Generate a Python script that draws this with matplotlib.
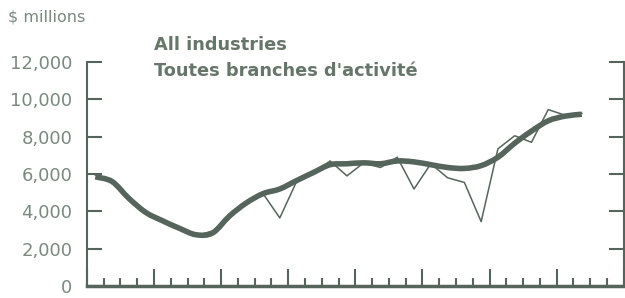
import numpy as np
import matplotlib
matplotlib.use("Agg")
import matplotlib.pyplot as plt
from matplotlib.path import Path
from matplotlib.patches import PathPatch
from matplotlib.ticker import MultipleLocator, FuncFormatter

# quarterly values, $ millions
trend = [5850, 5600, 4700, 3950, 3500, 3100, 2750, 2850, 3750, 4450,
         4950, 5200, 5650, 6080, 6500, 6550, 6600, 6550, 6700, 6650,
         6500, 6350, 6300, 6450, 6900, 7650, 8300, 8850, 9100, 9200]
actual = [5950, 5700, 4750, 3850, 3600, 3050, 2700, 2950, 3750, 4450,
          4950, 3650, 5600, 6080, 6700, 5900, 6600, 6350, 6900, 5200,
          6550, 5800, 5550, 3450, 7350, 8050, 7700, 9450, 9150, 9250]
y_ticks = [0, 2000, 4000, 6000, 8000, 10000, 12000]
n_quarters = 32

LINE = "#56655b"
TEXT = "#7a897e"
TITLE = "#66766a"

plt.rcParams['font.family'] = ['DejaVu Sans']


def smooth_path(x, y):
    # Catmull-Rom style curve through the points, drawn as cubic Beziers
    pts = np.column_stack([x, y]).astype(float)
    ext = np.vstack([pts[0], pts, pts[-1]])
    verts = [pts[0]]
    codes = [Path.MOVETO]
    for i in range(len(pts) - 1):
        p0, p1, p2, p3 = ext[i], ext[i + 1], ext[i + 2], ext[i + 3]
        verts += [p1 + (p2 - p0) / 6, p2 - (p3 - p1) / 6, p2]
        codes += [Path.CURVE4] * 3
    return Path(verts, codes)


fig = plt.figure(figsize=(6.25, 2.98), dpi=100)
ax = fig.add_axes([0.139, 0.040, 0.859, 0.752])

q = np.arange(len(trend)) + 0.5
ax.plot(q, actual, color=LINE, lw=1.1)
ax.add_patch(PathPatch(smooth_path(q, trend), facecolor='none',
                       edgecolor=LINE, lw=4.0, capstyle='butt'))

ax.set_xlim(0, n_quarters)
ax.set_ylim(0, 12000)

ax.spines['top'].set_visible(False)
for s in ('left', 'right'):
    ax.spines[s].set_color(LINE)
    ax.spines[s].set_linewidth(1.5)
ax.spines['bottom'].set_color(LINE)
ax.spines['bottom'].set_linewidth(2.5)

ax.set_yticks(y_ticks)
ax.yaxis.set_major_formatter(FuncFormatter(lambda v, p: f"{int(v):,}"))
ax.tick_params(axis='y', which='both', direction='in', length=11, width=1.5,
               color=LINE, labelcolor=TEXT, labelsize=13, pad=10.5,
               left=True, right=True)

ax.xaxis.set_major_locator(MultipleLocator(4))
ax.xaxis.set_minor_locator(MultipleLocator(1))
ax.tick_params(axis='x', which='major', direction='in', length=12, width=1.5,
               color=LINE, labelbottom=False)
ax.tick_params(axis='x', which='minor', direction='in', length=6, width=1.5,
               color=LINE)

fig.text(0.012, 0.943, "$ millions", color=TEXT, fontsize=11.5, va='center')
fig.text(0.247, 0.848, "All industries", color=TITLE, fontsize=12.8,
         fontweight='bold', va='center')
fig.text(0.247, 0.762, "Toutes branches d'activité", color=TITLE,
         fontsize=12.8, fontweight='bold', va='center')

fig.savefig("out.png", dpi=100)
